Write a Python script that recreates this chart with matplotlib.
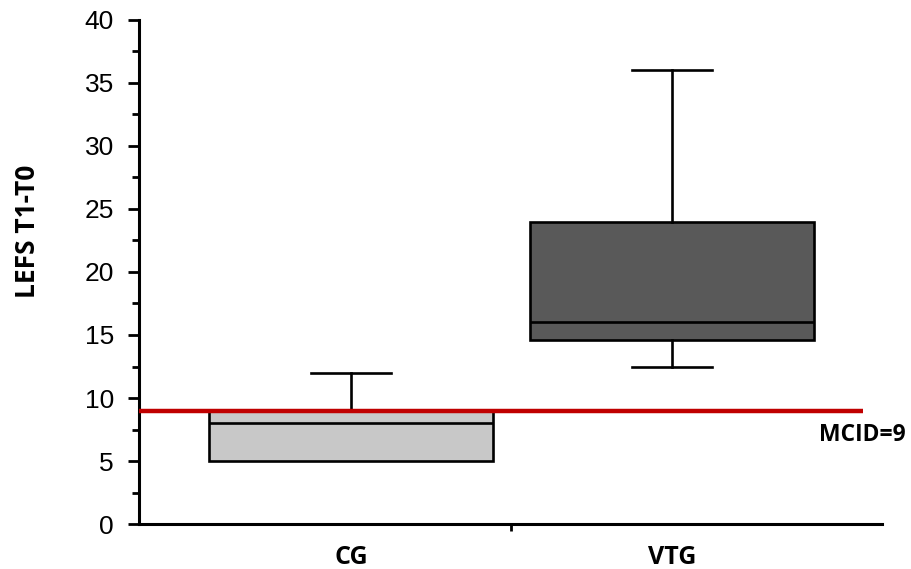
import matplotlib
matplotlib.use("Agg")
import matplotlib.pyplot as plt
from matplotlib.ticker import MultipleLocator, FixedLocator

# box summaries
groups = ["CG", "VTG"]
whislo = [5, 12.5]
q1 = [5, 14.6]
med = [8, 16]
q3 = [9, 24]
whishi = [12, 36]
fills = ["#c8c8c8", "#595959"]
mcid = 9

stats = []
for i in range(len(groups)):
    stats.append(dict(label=groups[i], whislo=whislo[i], q1=q1[i], med=med[i],
                      q3=q3[i], whishi=whishi[i], fliers=[]))

fig = plt.figure(figsize=(9.12, 5.69), dpi=100)
ax = fig.add_axes([0.1524, 0.079, 0.967 - 0.1524, 0.965 - 0.079])

bp = ax.bxp(stats, positions=[0, 1], widths=0.885, capwidths=0.25,
            patch_artist=True, showfliers=False,
            boxprops=dict(edgecolor="black", linewidth=1.9),
            medianprops=dict(color="black", linewidth=1.9),
            whiskerprops=dict(color="black", linewidth=1.9),
            capprops=dict(color="black", linewidth=1.9))
for patch, c in zip(bp["boxes"], fills):
    patch.set_facecolor(c)
# CG has no lower whisker (min equals Q1)
bp["caps"][0].set_visible(False)

# MCID reference line
ax.plot([-0.66, 1.595], [mcid, mcid], color="#c00000", linewidth=3.2,
        solid_capstyle="butt", clip_on=False, zorder=5)
ax.text(1.458, 8.0, "MCID=9", fontsize=16.5, fontfamily="Open Sans",
        fontweight="bold", ha="left", va="top", clip_on=False)

ax.set_xlim(-0.66, 1.654)
ax.set_ylim(0, 40)

for s in ["top", "right"]:
    ax.spines[s].set_visible(False)
for s in ["left", "bottom"]:
    ax.spines[s].set_linewidth(2.2)

ax.yaxis.set_major_locator(MultipleLocator(5))
ax.yaxis.set_minor_locator(MultipleLocator(2.5))
ax.tick_params(axis="y", which="major", length=8, width=2.0, labelsize=19, pad=10)
ax.tick_params(axis="y", which="minor", length=5, width=2.0)
for lab in ax.get_yticklabels():
    lab.set_fontfamily("Liberation Sans")

ax.set_xticks([0, 1])
ax.set_xticklabels(groups, fontsize=18, fontfamily="Open Sans", fontweight="bold")
ax.xaxis.set_minor_locator(FixedLocator([0.5]))
ax.tick_params(axis="x", which="major", length=0, pad=15)
ax.tick_params(axis="x", which="minor", length=5, width=2.0, direction="out")

fig.text(28 / 912, 1 - 231 / 569, "LEFS T1-T0", rotation=90, fontsize=19,
         fontfamily="Open Sans", fontweight="bold", ha="center", va="center")

fig.savefig("out.png", dpi=100)
